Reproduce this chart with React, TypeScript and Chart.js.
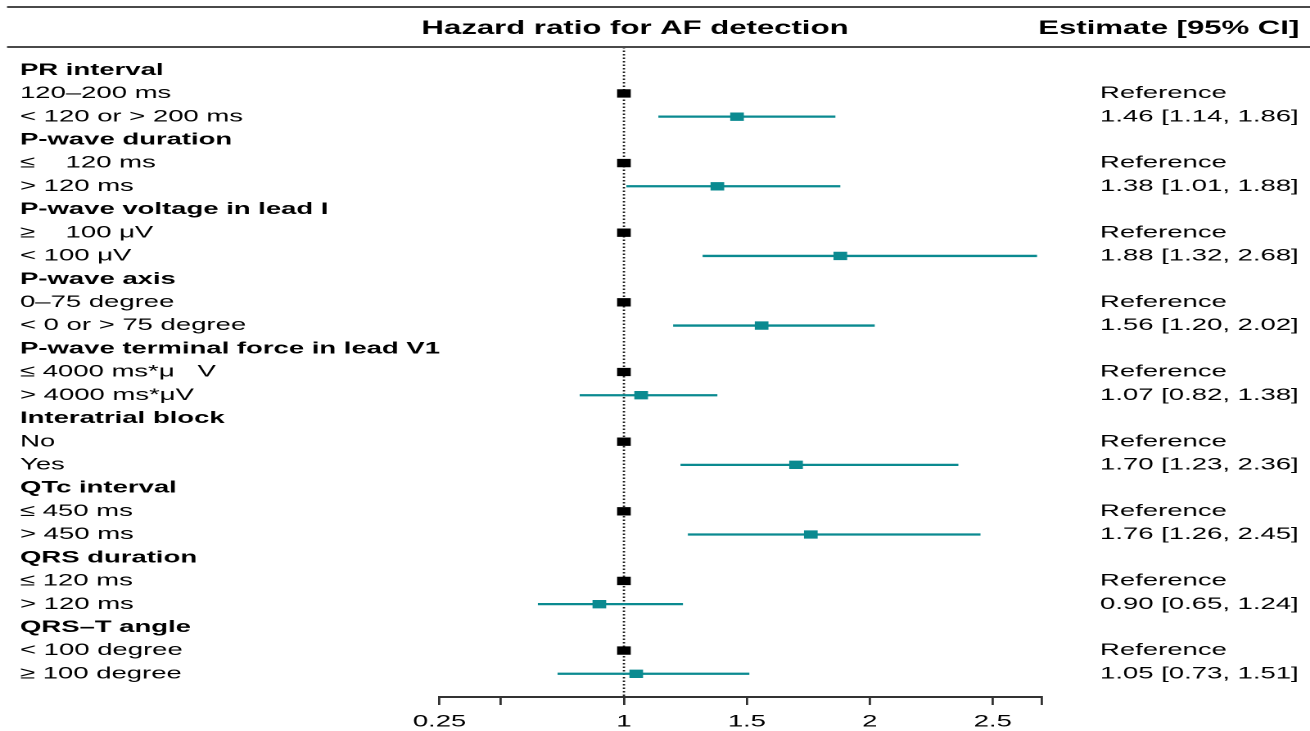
import { useEffect, useRef } from "react";
import { Chart, registerables } from "chart.js";

Chart.register(...registerables);

// ---------------- data ----------------
const groupNames = [
  "PR interval",
  "P-wave duration",
  "P-wave voltage in lead I",
  "P-wave axis",
  "P-wave terminal force in lead V1",
  "Interatrial block",
  "QTc interval",
  "QRS duration",
  "QRS–T angle",
];
const referenceLevels = [
  "120–200 ms",
  "≤    120 ms",
  "≥    100 μV",
  "0–75 degree",
  "≤ 4000 ms*μ   V",
  "No",
  "≤ 450 ms",
  "≤ 120 ms",
  "< 100 degree",
];
const comparisonLevels = [
  "< 120 or > 200 ms",
  "> 120 ms",
  "< 100 μV",
  "< 0 or > 75 degree",
  "> 4000 ms*μV",
  "Yes",
  "> 450 ms",
  "> 120 ms",
  "≥ 100 degree",
];
const hazardRatios = [1.46, 1.38, 1.88, 1.56, 1.07, 1.7, 1.76, 0.9, 1.05];
const ciLower = [1.14, 1.01, 1.32, 1.2, 0.82, 1.23, 1.26, 0.65, 0.73];
const ciUpper = [1.86, 1.88, 2.68, 2.02, 1.38, 2.36, 2.45, 1.24, 1.51];
const referenceValue = 1;
const referenceText = "Reference";
const xTickValues = [0.25, 0.5, 1, 1.5, 2, 2.5, 2.7];
const xTickLabels = ["0.25", "", "1", "1.5", "2", "2.5", ""];
const plotTitle = "Hazard ratio for AF detection";
const estimateHeader = "Estimate [95% CI]";

// ---------------- layout ----------------
const STRETCH = 1.6375;
const CANVAS_W = 800;
const CANVAS_H = 731;
const FONT = "'Liberation Sans', Arial, Helvetica, sans-serif";
const TEAL = "#0a8a90";
const LABEL_SIZE = 16.8;

type Row = { label: string; header: boolean; right: string };
const rows: Row[] = [];
groupNames.forEach((g, i) => {
  rows.push({ label: g, header: true, right: "" });
  rows.push({ label: referenceLevels[i], header: false, right: referenceText });
  rows.push({
    label: comparisonLevels[i],
    header: false,
    right: `${hazardRatios[i].toFixed(2)} [${ciLower[i].toFixed(2)}, ${ciUpper[i].toFixed(2)}]`,
  });
});
const rowCount = rows.length;

const headerPlugin = {
  id: "forestHeader",
  afterDraw(chart: any) {
    const ctx = chart.ctx;
    ctx.save();
    ctx.strokeStyle = "#4a4a4a";
    ctx.lineWidth = 2;
    [7, 47].forEach((y) => {
      ctx.beginPath();
      ctx.moveTo(4.3, y);
      ctx.lineTo(CANVAS_W, y);
      ctx.stroke();
    });
    ctx.fillStyle = "#000";
    ctx.textBaseline = "middle";
    ctx.font = `bold 19px ${FONT}`;
    ctx.textAlign = "center";
    ctx.fillText(plotTitle, 387.8, 29);
    ctx.textAlign = "right";
    ctx.fillText(estimateHeader, 793.5, 29);
    ctx.restore();
  },
};

const zeroPad = (s: any) => {
  s.paddingTop = 0;
  s.paddingBottom = 0;
  s.paddingLeft = 0;
  s.paddingRight = 0;
};

export default function App() {
  const ref = useRef<HTMLCanvasElement | null>(null);

  useEffect(() => {
    document.body.style.margin = "0";
    const canvas = ref.current!;
    const refRows = groupNames.map((_, i) => 3 * i + 1);
    const cmpRows = groupNames.map((_, i) => 3 * i + 2);

    const ciDatasets = cmpRows.map((r, i) => ({
      data: [
        { x: ciLower[i], y: r },
        { x: ciUpper[i], y: r },
      ],
      showLine: true,
      borderColor: TEAL,
      borderWidth: 2.3,
      pointRadius: 0,
      order: 5,
    }));

    const chart = new Chart(canvas, {
      type: "scatter",
      data: {
        datasets: [
          {
            data: [
              { x: referenceValue, y: -1 },
              { x: referenceValue, y: rowCount },
            ],
            showLine: true,
            borderColor: "#222",
            borderWidth: 1.4,
            borderDash: [1.5, 2],
            pointRadius: 0,
            order: 10,
          },
          ...ciDatasets,
          {
            data: refRows.map((r) => ({ x: referenceValue, y: r })),
            pointStyle: "rect",
            pointRadius: 5.9,
            pointBorderWidth: 0,
            backgroundColor: "#000",
            borderColor: "#000",
            order: 1,
          },
          {
            data: cmpRows.map((r, i) => ({ x: hazardRatios[i], y: r })),
            pointStyle: "rect",
            pointRadius: 5.9,
            pointBorderWidth: 0,
            backgroundColor: TEAL,
            borderColor: TEAL,
            order: 0,
          },
        ] as any,
      },
      options: {
        animation: false,
        responsive: false,
        devicePixelRatio: 2,
        layout: { padding: { left: 12.2, top: 47, right: 0, bottom: 0 } },
        plugins: { legend: { display: false }, tooltip: { enabled: false }, title: { display: false } },
        scales: {
          x: {
            type: "linear",
            min: 0.25,
            max: 2.7,
            afterBuildTicks: (s: any) => {
              s.ticks = xTickValues.map((v) => ({ value: v }));
            },
            afterFit: (s: any) => {
              s.height = 34;
              zeroPad(s);
            },
            ticks: {
              autoSkip: false,
              maxRotation: 0,
              padding: 7,
              color: "#000",
              font: { family: FONT, size: LABEL_SIZE },
              callback: (_v: any, i: number) => xTickLabels[i],
            },
            grid: { drawOnChartArea: false, drawTicks: true, tickLength: 8, color: "#333", lineWidth: 1.4 },
            border: { display: true, color: "#333", width: 2 },
          },
          y: {
            type: "linear",
            position: "left",
            reverse: true,
            min: -1,
            max: rowCount,
            afterBuildTicks: (s: any) => {
              s.ticks = rows.map((_, i) => ({ value: i }));
            },
            afterFit: (s: any) => {
              s.width = 256.2;
              zeroPad(s);
            },
            ticks: {
              autoSkip: false,
              padding: 0,
              crossAlign: "far",
              color: "#000",
              font: (c: any) => ({
                family: FONT,
                size: LABEL_SIZE,
                weight: rows[c.index] && rows[c.index].header ? "bold" : "normal",
              }),
              callback: (_v: any, i: number) => rows[i].label,
            },
            grid: { display: false },
            border: { display: false },
          },
          y2: {
            type: "linear",
            position: "right",
            reverse: true,
            min: -1,
            max: rowCount,
            afterBuildTicks: (s: any) => {
              s.ticks = rows.map((_, i) => ({ value: i }));
            },
            afterFit: (s: any) => {
              s.width = 163.7;
              zeroPad(s);
            },
            ticks: {
              autoSkip: false,
              padding: 27.5,
              crossAlign: "near",
              color: "#000",
              font: { family: FONT, size: LABEL_SIZE },
              callback: (_v: any, i: number) => rows[i].right,
            },
            grid: { display: false },
            border: { display: false },
          },
        },
      } as any,
      plugins: [headerPlugin],
    });
    return () => chart.destroy();
  }, []);

  return (
    <div
      style={{
        position: "fixed",
        left: 0,
        top: 0,
        width: 1310,
        height: CANVAS_H,
        overflow: "hidden",
        background: "#fff",
      }}
    >
      <canvas
        ref={ref}
        width={CANVAS_W}
        height={CANVAS_H}
        style={{ transform: `scaleX(${STRETCH})`, transformOrigin: "0 0", display: "block" }}
      />
    </div>
  );
}
